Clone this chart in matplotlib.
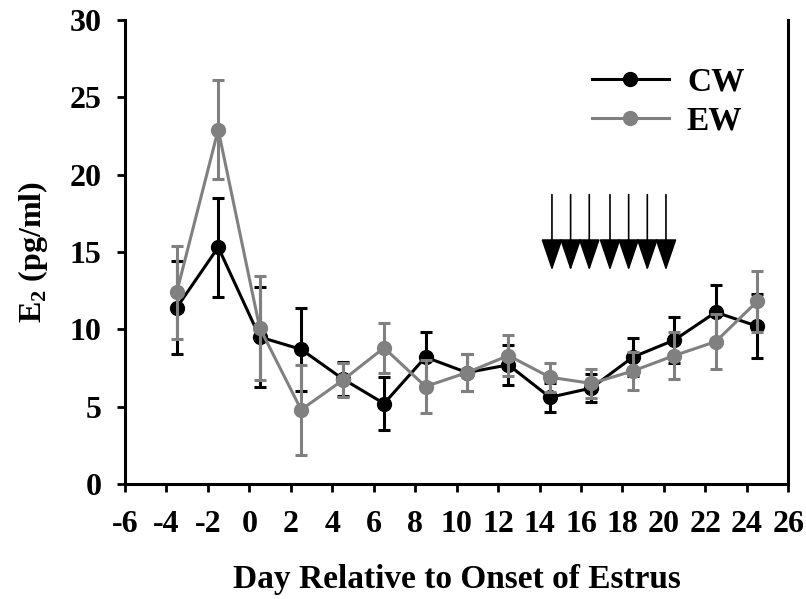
import numpy as np
import matplotlib
matplotlib.use("Agg")
import matplotlib.pyplot as plt

plt.rcParams['font.family'] = ['Liberation Serif', 'DejaVu Serif']
plt.rcParams['font.weight'] = 'bold'
plt.rcParams['mathtext.fontset'] = 'custom'
plt.rcParams['mathtext.rm'] = 'Liberation Serif:bold'
plt.rcParams['mathtext.bf'] = 'Liberation Serif:bold'
plt.rcParams['axes.unicode_minus'] = False

# days relative to onset of estrus
days = [-3.5, -1.5, 0.5, 2.5, 4.5, 6.5, 8.5, 10.5, 12.5, 14.5, 16.5, 18.5, 20.5, 22.5, 24.5]

cw_mean = [11.4, 15.3, 9.5, 8.7, 6.8, 5.2, 8.2, 7.2, 7.7, 5.6, 6.2, 8.2, 9.3, 11.1, 10.2]
cw_se = [3.0, 3.2, 3.2, 2.7, 1.1, 1.7, 1.65, 1.2, 1.3, 0.95, 0.9, 1.25, 1.5, 1.75, 2.05]

ew_mean = [12.4, 22.9, 10.1, 4.8, 6.7, 8.8, 6.3, 7.2, 8.3, 6.9, 6.5, 7.3, 8.3, 9.2, 11.8]
ew_se = [3.0, 3.2, 3.35, 2.9, 1.1, 1.6, 1.7, 1.2, 1.3, 0.95, 0.95, 1.25, 1.5, 1.8, 1.95]

# treatment arrows
arrow_days = [14.6, 15.5, 16.4, 17.4, 18.3, 19.2, 20.1]
arrow_top = 18.7
arrow_tip = 13.8

gray = '#808080'

fig = plt.figure(figsize=(8.06, 5.99), dpi=100)
ax = fig.add_axes([0.155, 0.192, 0.823, 0.775])

cw = ax.errorbar(days, cw_mean, yerr=cw_se, color='black', lw=2.2, marker='o', ms=10,
                 capsize=4, capthick=2.2, elinewidth=2.2, zorder=3)
ew = ax.errorbar(days, ew_mean, yerr=ew_se, color=gray, lw=2.2, marker='o', ms=10,
                 capsize=4, capthick=2.2, elinewidth=2.2, zorder=4)

for d in arrow_days:
    ax.annotate('', xy=(d, arrow_tip), xytext=(d, arrow_top),
                arrowprops=dict(arrowstyle='-|>,head_length=1.0,head_width=0.34',
                                lw=1.2, color='black', mutation_scale=20,
                                shrinkA=0, shrinkB=0))

ax.set_xlim(-6, 26)
ax.set_ylim(0, 30)
ax.set_xticks(np.arange(-6, 27, 2))
ax.set_yticks(np.arange(0, 31, 5))
ax.tick_params(labelsize=23, width=2, length=6, direction='out')
ax.tick_params(axis='x', pad=13)
ax.tick_params(axis='y', pad=11)
for s in ['left', 'bottom', 'right', 'top']:
    ax.spines[s].set_linewidth(2.2)
ax.spines['top'].set_visible(False)

ax.set_xlabel('Day Relative to Onset of Estrus', fontsize=24, fontweight='bold', labelpad=18)
ax.set_ylabel(r'E$_{\mathbf{2}}$ (pg/ml)', fontsize=23, fontweight='bold', labelpad=14)

leg = ax.legend([cw[0], ew[0]], ['CW', 'EW'], loc='upper left',
                bbox_to_anchor=(0.704, 0.90), frameon=False, fontsize=24,
                handlelength=2.3, labelspacing=0.25, handletextpad=0.55,
                borderpad=0, borderaxespad=0)

fig.savefig('out.png', dpi=100)
